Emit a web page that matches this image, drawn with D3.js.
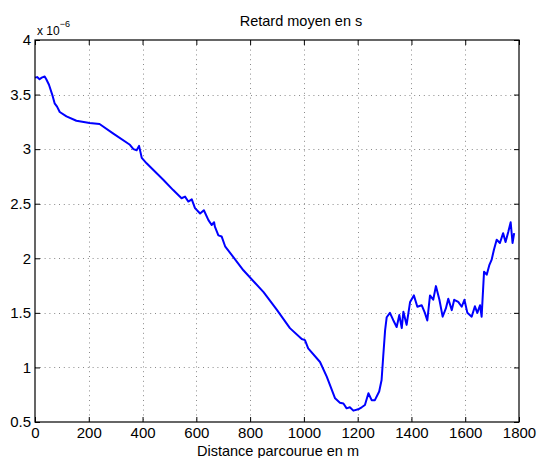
<!DOCTYPE html>
<html>
<head>
<meta charset="utf-8">
<script src="https://cdn.jsdelivr.net/npm/d3@7"></script>
<style>
  html, body { margin: 0; padding: 0; background: #fff; }
  svg { display: block; }
  text { font-family: "Liberation Sans", Arial, Helvetica, sans-serif; fill: #000; }
</style>
</head>
<body>
<svg id="chart" width="537" height="458"></svg>
<script>
// Distance (m)
const distance = [0,8,17,25,36,42,52,64,73,82,92,117,154,203,240,290,353,366,378,387,397,415,477,514,545,558,570,583,595,614,628,645,657,666,669,682,694,707,775,850,899,948,992,1004,1016,1060,1085,1116,1134,1147,1159,1171,1184,1202,1215,1227,1240,1252,1264,1280,1289,1295,1302,1308,1320,1332,1345,1355,1364,1370,1382,1395,1409,1422,1438,1450,1459,1469,1481,1491,1504,1516,1528,1537,1550,1559,1574,1587,1597,1608,1624,1636,1645,1655,1661,1670,1680,1690,1698,1707,1717,1729,1741,1750,1760,1769,1776,1782];
// Mean delay, in units of 1e-6 s
const delay = [3.655,3.66,3.64,3.655,3.665,3.64,3.59,3.5,3.42,3.39,3.34,3.30,3.26,3.24,3.23,3.145,3.04,3.0,2.99,3.03,2.92,2.87,2.72,2.625,2.55,2.565,2.52,2.54,2.46,2.41,2.44,2.35,2.305,2.33,2.29,2.21,2.20,2.11,1.89,1.69,1.53,1.36,1.26,1.25,1.175,1.05,0.915,0.717,0.677,0.67,0.625,0.635,0.604,0.616,0.635,0.656,0.763,0.70,0.70,0.78,0.885,1.10,1.34,1.46,1.50,1.435,1.37,1.48,1.36,1.51,1.39,1.60,1.66,1.556,1.57,1.50,1.43,1.66,1.62,1.745,1.62,1.465,1.54,1.63,1.525,1.62,1.60,1.556,1.62,1.50,1.465,1.56,1.50,1.57,1.465,1.877,1.85,1.94,1.985,2.08,2.17,2.14,2.23,2.15,2.24,2.33,2.14,2.23];
const xTicks = [0,200,400,600,800,1000,1200,1400,1600,1800];
const yTicks = [0.5,1,1.5,2,2.5,3,3.5,4];
const xDomain = [0, 1800];
const yDomain = [0.5, 4];
const titleText = "Retard moyen en s";
const xLabelText = "Distance parcourue en m";

const L = 35, R = 519, T = 40, B = 422;
const svg = d3.select("#chart");
const x = d3.scaleLinear().domain(xDomain).range([L, R]);
const y = d3.scaleLinear().domain(yDomain).range([B, T]);

// grid
const grid = svg.append("g").attr("stroke", "#8a8a8a").attr("stroke-width", 1).attr("stroke-dasharray", "1,3.8");
xTicks.slice(1, -1).forEach(t => {
  grid.append("line").attr("x1", Math.round(x(t)) + 0.5).attr("x2", Math.round(x(t)) + 0.5).attr("y1", T).attr("y2", B);
});
yTicks.slice(1, -1).forEach(t => {
  grid.append("line").attr("y1", Math.round(y(t)) + 0.5).attr("y2", Math.round(y(t)) + 0.5).attr("x1", L).attr("x2", R);
});

// data line
const n = Math.min(distance.length, delay.length);
const pts = d3.range(n).map(i => [distance[i], delay[i]]);
svg.append("path")
  .datum(pts)
  .attr("fill", "none")
  .attr("stroke", "#0000ff")
  .attr("stroke-width", 2)
  .attr("stroke-linejoin", "round")
  .attr("d", d3.line().x(d => x(d[0])).y(d => y(d[1])));

// axes (ticks inward, MATLAB style)
const fmt = d => String(d);
const gxB = svg.append("g").attr("transform", `translate(0,${B})`)
  .call(d3.axisBottom(x).tickValues(xTicks).tickSize(-5).tickPadding(5.5).tickFormat(fmt));
const gxT = svg.append("g").attr("transform", `translate(0,${T})`)
  .call(d3.axisTop(x).tickValues(xTicks).tickSize(-5).tickFormat(""));
const gyL = svg.append("g").attr("transform", `translate(${L},0)`)
  .call(d3.axisLeft(y).tickValues(yTicks).tickSize(-5).tickPadding(4).tickFormat(fmt));
const gyR = svg.append("g").attr("transform", `translate(${R},0)`)
  .call(d3.axisRight(y).tickValues(yTicks).tickSize(-5).tickFormat(""));
[gxB, gxT, gyL, gyR].forEach(g => {
  g.select(".domain").remove();
  g.selectAll("line").attr("stroke", "#000");
  g.selectAll("text").attr("font-size", 15).attr("font-family", "Liberation Sans, Arial, sans-serif").attr("fill", "#000");
});
gxB.selectAll("text").attr("dy", "0.71em");

// box
svg.append("rect").attr("x", L).attr("y", T).attr("width", R - L).attr("height", B - T)
  .attr("fill", "none").attr("stroke", "#000").attr("stroke-width", 1.2);

// exponent label
const ex = svg.append("text").attr("x", 37).attr("y", 35).attr("font-size", 12);
ex.append("tspan").text("x 10");
ex.append("tspan").attr("dy", -8).attr("font-size", 9).text("\u22126");

// title & xlabel
svg.append("text").attr("x", (L + R) / 2 + 24).attr("y", 26).attr("text-anchor", "middle").attr("font-size", 14.5).text(titleText);
svg.append("text").attr("x", (L + R) / 2 + 1).attr("y", 456).attr("text-anchor", "middle").attr("font-size", 14.5).text(xLabelText);
</script>
</body>
</html>
